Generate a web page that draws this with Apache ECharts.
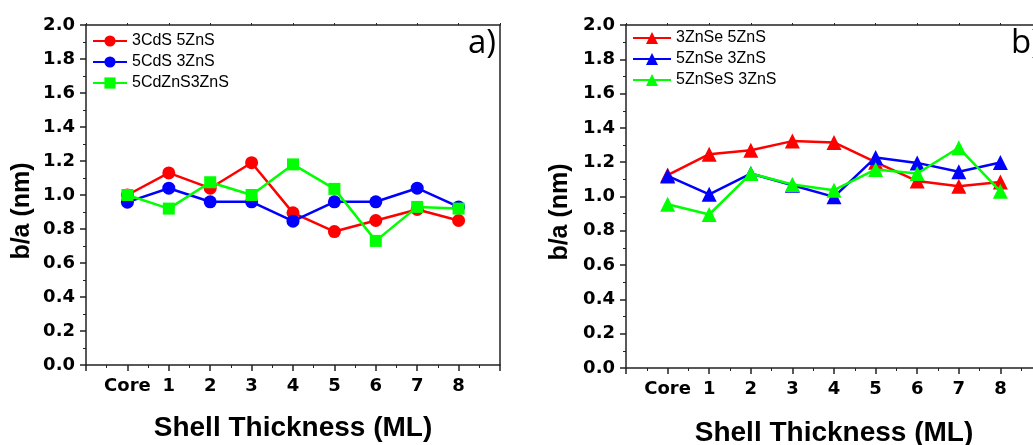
<!DOCTYPE html>
<html>
<head>
<meta charset="utf-8">
<script src="https://cdn.jsdelivr.net/npm/echarts@6/dist/echarts.min.js"></script>
<style>
html,body{margin:0;padding:0;background:#fff;}
#chart{width:1033px;height:445px;}
</style>
</head>
<body>
<div id="chart"></div>
<script>
// ---- data ----
var shellPositions = [0, 1, 2, 3, 4, 5, 6, 7, 8];
var tickLabels = ['Core', '1', '2', '3', '4', '5', '6', '7', '8'];

var namesA = ['3CdS 5ZnS', '5CdS 3ZnS', '5CdZnS3ZnS'];
var cd3zn5 = [1.00, 1.13, 1.04, 1.19, 0.895, 0.785, 0.85, 0.915, 0.85];
var cd5zn3 = [0.958, 1.04, 0.96, 0.96, 0.846, 0.96, 0.96, 1.04, 0.93];
var cdzn5zn3 = [1.00, 0.92, 1.075, 1.00, 1.18, 1.036, 0.73, 0.93, 0.92];

var namesB = ['3ZnSe 5ZnS', '5ZnSe 3ZnS', '5ZnSeS 3ZnS'];
var znse3zn5 = [1.125, 1.247, 1.27, 1.323, 1.315, 1.20, 1.09, 1.06, 1.085];
var znse5zn3 = [1.12, 1.013, 1.134, 1.066, 0.998, 1.228, 1.196, 1.144, 1.198];
var znses5zn3 = [0.955, 0.895, 1.134, 1.07, 1.037, 1.158, 1.134, 1.284, 1.03];

var yTicks = ['0.0','0.2','0.4','0.6','0.8','1.0','1.2','1.4','1.6','1.8','2.0'];

// ---- chart ----
var FONT = '"Liberation Sans", Arial, sans-serif';
var TICKFONT = '"DejaVu Sans", sans-serif';
function pairs(vals){ return shellPositions.map(function(x,i){ return [x, vals[i]]; }); }
function xLabel(v){
  var i = shellPositions.indexOf(v);
  return i >= 0 ? tickLabels[i] : '';
}
function yLabel(v){
  var i = Math.round(v / 0.2);
  return (Math.abs(v - i*0.2) < 1e-6 && yTicks[i]) ? yTicks[i] : '';
}
var axisLineStyle = {color:'#222', width:1.5};

function bottomX(gi){
  return {
    type:'value', gridIndex:gi, min:-1, max:9, interval:1, position:'bottom',
    name:'Shell Thickness (ML)', nameLocation:'middle', nameGap: gi===0?49:51,
    nameTextStyle:{fontFamily:FONT, fontWeight:'bold', fontSize:28, color:'#000'},
    axisLine:{show:true, onZero:false, lineStyle:axisLineStyle},
    axisTick:{show:true, length:6, lineStyle:{color:'#222', width:1.5}},
    minorTick:{show:true, splitNumber:2, length:3, lineStyle:{color:'#222', width:1}},
    axisLabel:{formatter:xLabel, fontFamily:TICKFONT, fontWeight:'bold', fontSize:18, color:'#000', margin:12, showMinLabel:true, showMaxLabel:true},
    splitLine:{show:false}
  };
}
function topX(gi){
  return {
    type:'value', gridIndex:gi, min:-1, max:9, interval:1, position:'top',
    axisLine:{show:true, onZero:false, lineStyle:axisLineStyle},
    axisTick:{show:true, length:2, lineStyle:{color:'#222', width:1}},
    axisLabel:{show:false}, splitLine:{show:false}
  };
}
function leftY(gi){
  return {
    type:'value', gridIndex:gi, min:0, max:2, interval:0.2, position:'left',
    axisLine:{show:true, onZero:false, lineStyle:axisLineStyle},
    axisTick:{show:true, length:6, lineStyle:{color:'#222', width:1.5}},
    minorTick:{show:true, splitNumber:2, length:3, lineStyle:{color:'#222', width:1}},
    axisLabel:{formatter:yLabel, fontFamily:TICKFONT, fontWeight:'bold', fontSize:18, color:'#000', margin:11},
    splitLine:{show:false}
  };
}
function rightY(gi){
  return {
    type:'value', gridIndex:gi, min:0, max:2, interval:0.2, position:'right',
    axisLine:{show:true, onZero:false, lineStyle:axisLineStyle},
    axisTick:{show:false}, axisLabel:{show:false}, splitLine:{show:false}
  };
}
function ser(name, vals, color, symbol, size, xi, yi, z){
  return {
    type:'line', name:name, data:pairs(vals), xAxisIndex:xi, yAxisIndex:yi,
    symbol:symbol, symbolSize:size, showSymbol:true, z:z,
    lineStyle:{color:color, width:2.5}, itemStyle:{color:color, borderWidth:0},
    emphasis:{disabled:true}, animation:false
  };
}
var RED='#ff0000', BLUE='#0000ff', GREEN='#00ff00';

var option = {
  backgroundColor:'#fff',
  animation:false,
  grid:[
    {left:86, top:25, width:414, height:340, outerBoundsMode:'none', containLabel:false},
    {left:626, top:25, width:416, height:343, outerBoundsMode:'none', containLabel:false}
  ],
  xAxis:[bottomX(0), topX(0), bottomX(1), topX(1)],
  yAxis:[leftY(0), rightY(0), leftY(1), rightY(1)],
  legend:[
    {data:namesA, orient:'vertical', left:92, top:33, padding:0, itemWidth:34, itemHeight:14, itemGap:5,
     textStyle:{fontFamily:FONT, fontSize:16, color:'#000'}, selectedMode:false},
    {data:namesB, orient:'vertical', left:632, top:30, padding:0, itemWidth:38, itemHeight:15, itemGap:5,
     textStyle:{fontFamily:FONT, fontSize:16, color:'#000'}, selectedMode:false}
  ],
  graphic:[
    {type:'text', x:22, y:211, rotation:Math.PI/2, style:{text:'b/a (nm)', fontFamily:FONT, fontWeight:'bold', fontSize:25, fill:'#000', align:'center', verticalAlign:'middle'}},
    {type:'text', x:560, y:212, rotation:Math.PI/2, style:{text:'b/a (nm)', fontFamily:FONT, fontWeight:'bold', fontSize:25, fill:'#000', align:'center', verticalAlign:'middle'}},
    {type:'text', left:468, top:27, style:{text:'a)', fontFamily:'"Open Sans", sans-serif', fontSize:33, fill:'#000'}},
    {type:'text', left:1011, top:27, style:{text:'b)', fontFamily:'"Open Sans", sans-serif', fontSize:33, fill:'#000'}}
  ],
  series:[
    ser(namesA[0], cd3zn5, RED, 'circle', 13, 0, 0, 2),
    ser(namesA[1], cd5zn3, BLUE, 'circle', 13, 0, 0, 3),
    ser(namesA[2], cdzn5zn3, GREEN, 'rect', 12, 0, 0, 4),
    ser(namesB[0], znse3zn5, RED, 'triangle', 15, 2, 2, 2),
    ser(namesB[1], znse5zn3, BLUE, 'triangle', 15, 2, 2, 3),
    ser(namesB[2], znses5zn3, GREEN, 'triangle', 15, 2, 2, 4)
  ]
};
var chart = echarts.init(document.getElementById('chart'), null, {renderer:'canvas'});
chart.setOption(option);
</script>
</body>
</html>
